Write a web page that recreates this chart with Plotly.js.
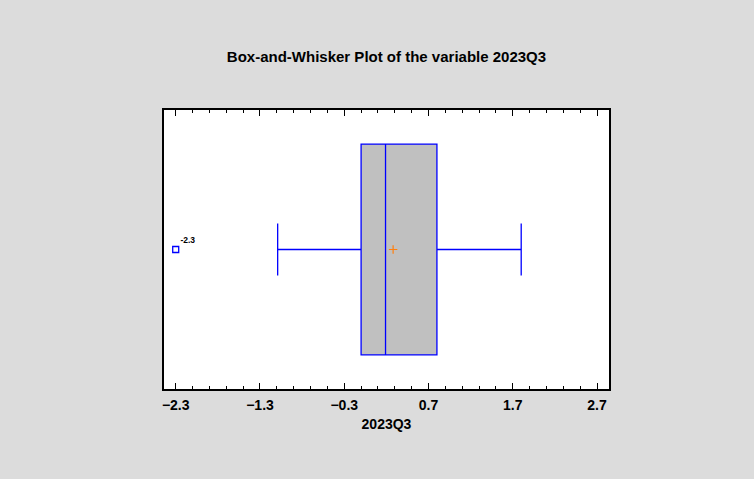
<!DOCTYPE html>
<html>
<head>
<meta charset="utf-8">
<script src="https://cdn.plot.ly/plotly-3.0.1.min.js"></script>
<style>html,body{margin:0;padding:0;background:#dcdcdc;}#chart{width:754px;height:479px;}</style>
</head>
<body>
<div id="chart"></div>
<script>
// Summary statistics
const variableName = "2023Q3";
const q1 = [-0.10];
const median = [0.19];
const q3 = [0.80];
const lowerWhisker = [-1.09];
const upperWhisker = [1.80];
const meanValue = [0.28];
const outliers = [-2.3];
const outlierLabels = ["-2.3"];
const firstTick = -2.3;
const tickStep = 1;
const minorStep = 0.2;

const FONT = "Liberation Sans, Arial, Helvetica, sans-serif";
const XRANGE = [-2.439, 2.842];

const boxTrace = {
  type: 'box',
  orientation: 'h',
  y: [0],
  q1: q1,
  median: median,
  q3: q3,
  lowerfence: lowerWhisker,
  upperfence: upperWhisker,
  width: 0.756,
  whiskerwidth: 0.246,
  fillcolor: '#c0c0c0',
  line: {color: '#0000ff', width: 1.3},
  boxpoints: false,
  hoverinfo: 'skip',
  showlegend: false
};

const meanTrace = {
  type: 'scatter',
  mode: 'markers',
  x: meanValue,
  y: [0],
  marker: {symbol: 'cross-thin-open', size: 6, line: {color: '#993300', width: 1.2}},
  showlegend: false,
  hoverinfo: 'skip'
};

const outlierTrace = {
  type: 'scatter',
  mode: 'markers+text',
  x: outliers,
  y: outliers.map(() => 0),
  text: outlierLabels,
  textposition: 'top right',
  textfont: {family: FONT, size: 8.5, color: '#000', weight: 'bold'},
  marker: {symbol: 'square-open', size: 6, line: {color: '#0000ff', width: 1.3}, color: '#0000ff'},
  showlegend: false,
  hoverinfo: 'skip',
  cliponaxis: false
};

// invisible trace so the top (mirror) tick axis is drawn
const topAxisTrace = {
  type: 'scatter', mode: 'markers', x: [XRANGE[0]], y: [0],
  xaxis: 'x2', yaxis: 'y', marker: {opacity: 0}, showlegend: false, hoverinfo: 'skip'
};

const tickCommon = {
  range: XRANGE,
  tickmode: 'linear',
  tick0: firstTick,
  dtick: tickStep,
  ticks: 'inside',
  ticklen: 6,
  tickwidth: 1,
  tickcolor: '#000000',
  minor: {tickmode: 'linear', tick0: firstTick, dtick: minorStep, ticks: 'inside', ticklen: 3, tickwidth: 1, tickcolor: '#000000', showgrid: false},
  showgrid: false,
  zeroline: false
};

const layout = {
  width: 754,
  height: 479,
  paper_bgcolor: '#dcdcdc',
  plot_bgcolor: '#ffffff',
  margin: {l: 164, r: 145, t: 110, b: 90},
  title: {
    text: 'Box-and-Whisker Plot of the variable ' + variableName,
    font: {family: FONT, size: 15, color: '#000', weight: 'bold'},
    x: 0.5, xref: 'paper', xanchor: 'center',
    y: 1 - 57/479, yref: 'container', yanchor: 'middle'
  },
  xaxis: Object.assign({}, tickCommon, {
    showline: true,
    linecolor: '#000',
    linewidth: 2,
    mirror: true,
    ticklabelstandoff: 2,
    tickformat: '.1f',
    tickfont: {family: FONT, size: 14, color: '#000', weight: 'bold'},
    title: {text: variableName, font: {family: FONT, size: 14, color: '#000', weight: 'bold'}, standoff: 7}
  }),
  xaxis2: Object.assign({}, tickCommon, {
    overlaying: 'x',
    side: 'top',
    anchor: 'y',
    showticklabels: false,
    showline: false
  }),
  yaxis: {
    range: [-0.5, 0.5],
    showticklabels: false,
    ticks: '',
    showline: true,
    linecolor: '#000',
    linewidth: 2,
    mirror: true,
    showgrid: false,
    zeroline: false
  }
};

Plotly.newPlot('chart', [boxTrace, meanTrace, outlierTrace, topAxisTrace], layout, {displayModeBar: false, staticPlot: true});
</script>
</body>
</html>
